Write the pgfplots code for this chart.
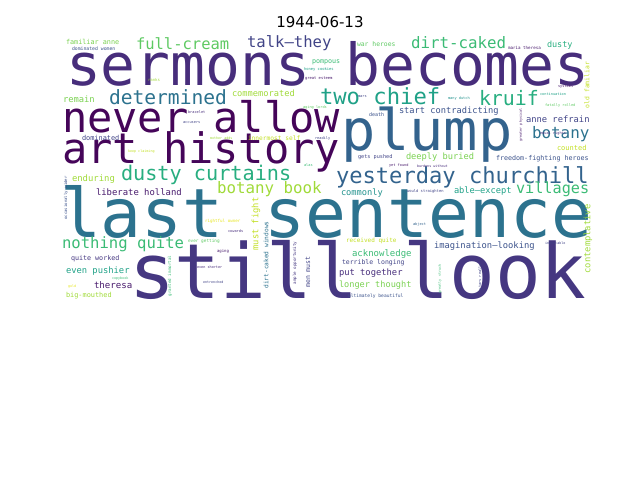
\documentclass[border=0pt]{standalone}
\usepackage{pgfplots}
\pgfplotsset{compat=1.18}
\usepackage{pgfplotstable}
\usepackage{fontspec}
\setmainfont{DejaVu Sans}
\newfontfamily\wcfont{DejaVu Sans Mono}
\definecolor{p0}{HTML}{450559}
\definecolor{p1}{HTML}{481A6C}
\definecolor{p2}{HTML}{472D7B}
\definecolor{p3}{HTML}{453781}
\definecolor{p4}{HTML}{414487}
\definecolor{p5}{HTML}{3B528B}
\definecolor{p6}{HTML}{33638D}
\definecolor{p7}{HTML}{2C728E}
\definecolor{p8}{HTML}{21918C}
\definecolor{p9}{HTML}{1FA187}
\definecolor{p10}{HTML}{28AE80}
\definecolor{p11}{HTML}{3BBB75}
\definecolor{p12}{HTML}{5EC962}
\definecolor{p13}{HTML}{7AD151}
\definecolor{p14}{HTML}{A0DA39}
\definecolor{p15}{HTML}{C2DF23}
\definecolor{p16}{HTML}{E5E419}

\pgfplotstableread[col sep=comma]{
x,y,fs,ci,w
66,85,58,2,sermons becomes
62,132,42,0,never allow
62,163,42,0,art history
341,150,57,6,plump
60,237,68,7,last sentence
129,298,76,3,still look
109,104,19.6,7,determined
320,104,22.2,9,two chief
479,105,19.9,10,kruif
121,180,20.2,10,dusty curtains
336,183,22.1,6,yesterday churchill
532,138,15.9,7,botany
136,49,15.5,12,full-cream
411,48,15.8,11,dirt-caked
247,47,15.6,4,talk—they
217,193,15.8,14,botany book
62,248,15.6,11,nothing quite
516,193,15.2,11,villages
66,44,6.8,13,familiar anne
63,102,8.8,13,remain
232,96,8.7,14,commemorated
312,63,6.7,11,pompous
357,46,6.4,12,war heroes
547,47,8.5,10,dusty
399,113,8.7,5,start contradicting
526,122,8.8,4,anne refrain
557,150,7,15,counted
406,159,8.7,13,deeply buried
496,160,6.7,5,freedom-fighting heroes
82,140,6.9,4,dominated
72,181,8.9,14,enduring
96,195,8.9,1,liberate holland
71,260,6.7,3,quite worked
66,273,8.8,9,even pushier
94,288,9.1,1,theresa
66,297,6.9,14,big-mouthed
341,195,8.7,8,commonly
454,193,8.7,9,able—except
346,242,6,15,received quite
434,248,8.8,5,imagination—looking
352,256,9,11,acknowledge
342,264,6.5,4,terrible longing
339,275,8.8,2,put together
339,287,8.6,13,longer thought
248,140,6.2,15,innermost self
72,50,4.8,5,dominated women
304,70,3.8,9,honey cookies
305,79,3.8,1,great esteem
148,81,4,14,ranks
303,108,3.6,12,aging lords
188,113,3.6,2,bracelet
183,123,3.6,4,accusers
210,139,3.4,14,mother adds
315,139,3.6,4,readily
128,152,3.4,15,keep claiming
304,166,3.6,11,alas
508,49,4.2,1,maria theresa
558,87,3.6,1,systems
540,95,3.6,9,continuation
448,99,3.6,8,many dutch
358,97,3.6,4,mars
545,106,3.6,12,fatally rolled
369,116,5,5,death
540,134,3.6,2,equal rights
358,158,5.2,4,gets pushed
389,166,3.6,1,yet found
417,167,3.4,2,burdens without
205,222,4.2,16,rightful owner
228,232,3.6,2,cowards
188,242,4.4,12,ever getting
217,252,4,1,aging
197,268,3.5,2,even shorter
112,279,3.4,11,copybook
203,283,3.4,4,entrenched
68,287,3.4,16,gold
407,192,3.8,4,would straighten
413,225,3.6,6,abject
545,244,3.4,4,inevitable
348,297,4.6,5,ultimately beautiful
}\horizwords

\pgfplotstableread[col sep=comma]{
x,y,fs,ci,w
587,85,6.4,15,old familiar
521,125,3.4,1,greater physical
256,224,8.8,15,must fight
266,255,6.2,7,dirt-caked windows
308,272,6.5,4,men must
295,263,4.2,3,ample opportunity
170,276,4.2,11,granted immortal
588,239,8.8,14,contemplative
440,279,3.4,11,greatly struck
480,277,3.6,4,stars really
66,198,4,5,occasionally wider
}\vertwords

\begin{document}
\begin{tikzpicture}
\begin{axis}[
  hide axis, scale only axis,
  width=640pt, height=480pt,
  xmin=0, xmax=640, ymin=0, ymax=480,
  y dir=reverse, clip=false,
]
\addplot[only marks, mark=none,
  nodes near coords, point meta=explicit symbolic,
  visualization depends on={\thisrow{fs} \as \wfs},
  visualization depends on={\thisrow{ci} \as \wci},
  nodes near coords style={/utils/exec={\pgfmathtruncatemacro\wc{\wci}\edef\wcolname{p\wc}},
    anchor=base west, inner sep=0pt, outer sep=0pt,
    font=\wcfont\fontsize{\wfs}{\wfs}\selectfont, text=\wcolname},
] table[x=x, y=y, meta=w] {\horizwords};
\addplot[only marks, mark=none,
  nodes near coords, point meta=explicit symbolic,
  visualization depends on={\thisrow{fs} \as \wfs},
  visualization depends on={\thisrow{ci} \as \wci},
  nodes near coords style={/utils/exec={\pgfmathtruncatemacro\wc{\wci}\edef\wcolname{p\wc}},
    anchor=center, rotate=90, inner sep=0pt, outer sep=0pt,
    font=\wcfont\fontsize{\wfs}{\wfs}\selectfont, text=\wcolname},
] table[x=x, y=y, meta=w] {\vertwords};
\node[anchor=base, font=\fontsize{15}{15}\selectfont, inner sep=0pt] at (axis cs:320,27) {1944-06-13};
\path (axis cs:0,0) rectangle (axis cs:640,480);
\end{axis}
\end{tikzpicture}
\end{document}
